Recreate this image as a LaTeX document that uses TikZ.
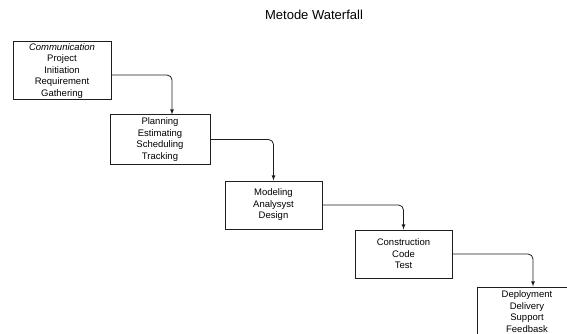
\documentclass[tikz,border=0pt]{standalone}
\usepackage{fontspec}
\setmainfont{Liberation Sans}
\usepackage{tikz}
\usetikzlibrary{arrows.meta, positioning}
\usepackage{xcolor}
\definecolor{garis}{RGB}{30, 30, 30}

\begin{document}
\begin{tikzpicture}[
  x=1pt, y=-1pt,
  every node/.style={align=center},
  arrow/.style={->, >=latex, draw=garis, line width=0.8pt, rounded corners=5pt},
  base/.style={draw=garis, line width=1pt, inner sep=0pt, minimum height=48pt,
    font=\fontsize{9.5}{11.5}\selectfont},
  judul/.style={font=\fontsize{13}{15}\selectfont},
]

% Frame of the picture
\clip (0,0) rectangle (567,334);

% Title
\node[judul] (title) at (314,15) {Metode Waterfall};

% Phase boxes, top left to bottom right
\node[base, minimum width=98pt, minimum height=58pt] (communication) at (62,71)
  {\textit{Communication}\\Project\\Initiation\\Requirement\\Gathering};
\node[base, minimum width=100pt, minimum height=49pt] (planning) at (160,139.5)
  {Planning\\Estimating\\Scheduling\\Tracking};
\node[base, minimum width=97pt] (modeling) at (273.5,205)
  {Modeling\\Analysyst\\Design};
\node[base, minimum width=97pt] (construction) at (403.5,254)
  {Construction\\Code\\Test};
\node[base, minimum width=100pt, minimum height=49pt] (deployment) at (527,311.5)
  {Deployment\\Delivery\\Support\\Feedbask};

% Arrows from each phase down to the next one
\draw[arrow] ([yshift=-4pt]communication.east) -| ([xshift=12pt]planning.north);
\draw[arrow] (planning.east) -| (modeling.north);
\draw[arrow] (modeling.east) -| (construction.north);
\draw[arrow] (construction.east) -| ([xshift=6pt]deployment.north);

\end{tikzpicture}
\end{document}
